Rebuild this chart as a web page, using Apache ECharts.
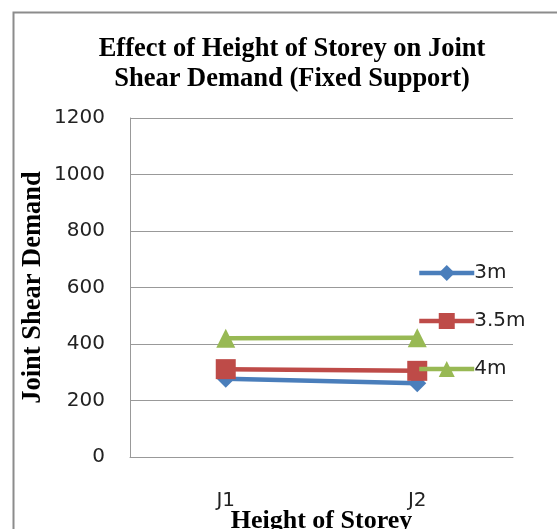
<!DOCTYPE html>
<html>
<head>
<meta charset="utf-8">
<script src="https://cdn.jsdelivr.net/npm/echarts@6/dist/echarts.min.js"></script>
<style>
  html, body { margin: 0; padding: 0; background: #fff; }
  #chart { width: 557px; height: 529px; }
</style>
</head>
<body>
<div id="chart"></div>
<script>
// Joint labels along the category axis
const joints = ['J1', 'J2'];
// Joint shear demand per storey height
const storey3m = [277, 261];
const storey35m = [311, 305];
const storey4m = [420, 422];
// Value axis ticks
const yMin = 0, yMax = 1200, yStep = 200;

const serifBold = { fontFamily: 'Liberation Serif', fontWeight: 'bold', color: '#000' };
const sans = { fontFamily: 'DejaVu Sans', fontSize: 20, color: '#222' };

const colors = { c3: '#4a7ebb', c35: '#be4b48', c4: '#98b954' };

const chart = echarts.init(document.getElementById('chart'), null, { renderer: 'canvas' });
chart.setOption({
  animation: false,
  backgroundColor: '#fff',
  graphic: [{
    type: 'rect',
    shape: { x: 13.5, y: 12.5, width: 600, height: 600 },
    style: { fill: 'none', stroke: '#8c8c8c', lineWidth: 2 },
    silent: true
  }],
  title: {
    text: 'Effect of Height of Storey on Joint\nShear Demand (Fixed Support)',
    left: 287, top: 29, textAlign: 'center',
    textStyle: Object.assign({ fontSize: 26.5, lineHeight: 30 }, serifBold)
  },
  legend: {
    orient: 'vertical',
    left: 412, top: 258,
    itemGap: 28,
    itemWidth: 55, itemHeight: 20,
    textStyle: Object.assign({}, sans, { padding: [0, 0, 0, -5] }),
    data: [
      { name: '3m', itemStyle: { color: colors.c3 }, lineStyle: { width: 4.5, color: colors.c3 } },
      { name: '3.5m', itemStyle: { color: colors.c35 }, lineStyle: { width: 4.5, color: colors.c35 } },
      { name: '4m', itemStyle: { color: colors.c4 }, lineStyle: { width: 4.5, color: colors.c4 } }
    ]
  },
  grid: { left: 130, top: 118, width: 383, height: 339, containLabel: false, outerBoundsMode: 'none' },
  xAxis: {
    type: 'category',
    data: joints,
    boundaryGap: true,
    name: 'Height of Storey',
    nameLocation: 'middle',
    nameMoveOverlap: false,
    nameGap: 51,
    nameTextStyle: Object.assign({ fontSize: 26 }, serifBold),
    axisLine: { lineStyle: { color: '#999', width: 1 } },
    axisTick: { show: false },
    axisLabel: Object.assign({ margin: 34 }, sans)
  },
  yAxis: {
    type: 'value',
    min: yMin, max: yMax, interval: yStep,
    name: 'Joint Shear Demand',
    nameLocation: 'middle',
    nameMoveOverlap: false,
    nameGap: 83,
    nameTextStyle: Object.assign({ fontSize: 26.5 }, serifBold),
    axisLine: { show: true, lineStyle: { color: '#999', width: 1 } },
    axisTick: { show: false },
    splitLine: { lineStyle: { color: '#999', width: 1 } },
    axisLabel: Object.assign({ margin: 25, formatter: v => String(v) }, sans)
  },
  series: [
    {
      name: '3m', type: 'line', data: storey3m,
      symbol: 'diamond', symbolSize: 18,
      color: colors.c3,
      lineStyle: { width: 4.5, color: colors.c3 },
      itemStyle: { color: colors.c3 }
    },
    {
      name: '3.5m', type: 'line', data: storey35m,
      symbol: 'rect', symbolSize: 20,
      color: colors.c35,
      lineStyle: { width: 4.5, color: colors.c35 },
      itemStyle: { color: colors.c35 }
    },
    {
      name: '4m', type: 'line', data: storey4m,
      symbol: 'triangle', symbolSize: 19,
      color: colors.c4,
      lineStyle: { width: 4.5, color: colors.c4 },
      itemStyle: { color: colors.c4 }
    }
  ]
});
</script>
</body>
</html>
